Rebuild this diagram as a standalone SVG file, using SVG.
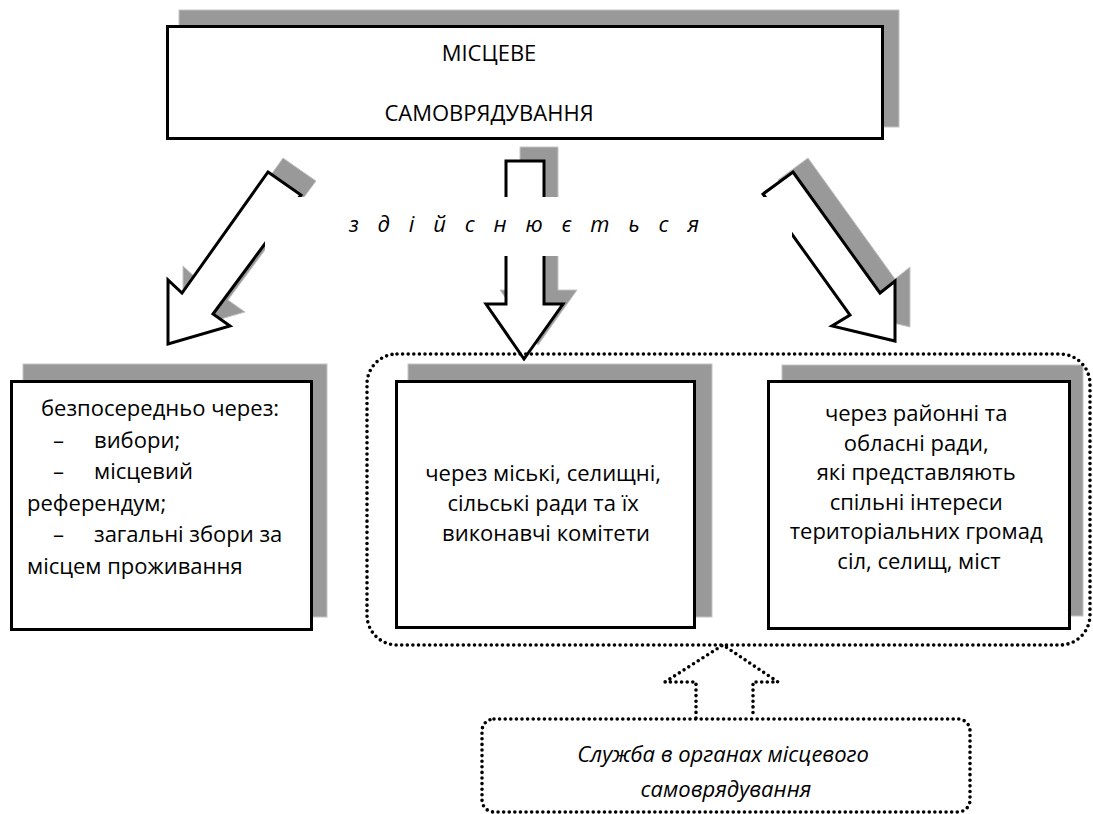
<svg xmlns="http://www.w3.org/2000/svg" width="1093" height="814" viewBox="0 0 1093 814">
  <style>
    .shadow { fill: #999999; stroke: #c4c4c4; stroke-width: 1; }
    .box { fill: #ffffff; stroke: #000000; stroke-width: 3; }
    .arrow { fill: #ffffff; stroke: #000000; stroke-width: 3; stroke-linejoin: miter; }
    .dots { fill: none; stroke: #000000; stroke-width: 3.6; stroke-linecap: round; stroke-dasharray: 0 5.6; }
    .txt { font-family: "Open Sans", "Noto Sans", sans-serif; font-size: 22px; fill: #000000; }
    .mid { text-anchor: middle; }
    .it { font-style: italic; }
  </style>

  <rect width="1093" height="814" fill="#ffffff"/>

  <!-- top node -->
  <g id="node-top">
    <rect class="shadow" x="179" y="10" width="720" height="117"/>
    <rect class="box" x="167.5" y="26.5" width="715" height="112"/>
    <text class="txt mid" x="489" y="61">МІСЦЕВЕ</text>
    <text class="txt mid" x="489" y="121">САМОВРЯДУВАННЯ</text>
  </g>

  <!-- block arrows and the caption band -->
  <g id="connectors">
    <g id="arrow-left">
      <polygon class="shadow" points="283,158 316,181 228,300 245,312 183,330 183,266 197,279"/>
      <polygon class="arrow" points="268,172 301,195 213,314 230,326 168,344 168,280 182,293"/>
    </g>
    <g id="arrow-middle">
      <polygon class="shadow" points="520,147 558,147 558,290 577,290 538,345 500,290 520,290"/>
      <polygon class="arrow" points="506,161 544,161 544,304 563,304 524,359 486,304 506,304"/>
    </g>
    <g id="arrow-right">
      <polygon class="shadow" points="808,158 895,279 910,267 910,327 847,312 865,301 778,180"/>
      <polygon class="arrow" points="793,172 880,293 895,281 895,341 832,326 850,315 763,194"/>
    </g>
    <rect x="265" y="197" width="527" height="59" fill="#ffffff"/>
    <text class="txt it" x="349" y="232" font-size="20" textLength="350" lengthAdjust="spacing">з д і й с н ю є т ь с я</text>

    <!-- dotted up-arrow from the service box -->
    <polyline class="dots" points="696,718 696,682 665,682 723,645 778,682 753,682 753,718"/>
  </g>

  <!-- left node -->
  <g id="node-direct">
    <rect class="shadow" x="23" y="364" width="304" height="253"/>
    <rect class="box" x="11.5" y="381.5" width="300" height="248"/>
    <text class="txt">
      <tspan x="41" y="416">безпосередньо через:</tspan>
      <tspan x="53" y="447.5">–</tspan><tspan x="94" y="447.5">вибори;</tspan>
      <tspan x="53" y="479">–</tspan><tspan x="94" y="479">місцевий</tspan>
      <tspan x="27" y="510.5">референдум;</tspan>
      <tspan x="53" y="542">–</tspan><tspan x="94" y="542">загальні збори за</tspan>
      <tspan x="27" y="573.5">місцем проживання</tspan>
    </text>
  </g>

  <!-- middle node -->
  <g id="node-councils">
    <rect class="shadow" x="408" y="364" width="304" height="253"/>
    <rect class="box" x="396.5" y="381.5" width="298" height="246"/>
    <text class="txt mid">
      <tspan x="546" y="481">через міські, селищні,</tspan>
      <tspan x="546" y="511">сільські ради та їх</tspan>
      <tspan x="546" y="541">виконавчі комітети</tspan>
    </text>
  </g>

  <!-- right node -->
  <g id="node-regional">
    <rect class="shadow" x="782" y="365" width="301" height="251"/>
    <rect class="box" x="768.5" y="381.5" width="301" height="247"/>
    <text class="txt mid">
      <tspan x="919" y="421">через районні та</tspan>
      <tspan x="919" y="450.5">обласні ради,</tspan>
      <tspan x="919" y="480">які представляють</tspan>
      <tspan x="919" y="509.5">спільні інтереси</tspan>
      <tspan x="919" y="539">територіальних громад</tspan>
      <tspan x="919" y="568.5">сіл, селищ, міст</tspan>
    </text>
  </g>

  <!-- dotted grouping frame around the councils -->
  <g id="group-councils">
    <rect class="dots" x="367" y="354" width="723" height="291" rx="30" ry="30"/>
  </g>

  <!-- service node -->
  <g id="node-service">
    <rect class="dots" x="482" y="719" width="488" height="93" rx="12" ry="12"/>
    <text class="txt mid it">
      <tspan x="726" y="762">Служба в органах місцевого</tspan>
      <tspan x="726" y="797">самоврядування</tspan>
    </text>
  </g>
</svg>
